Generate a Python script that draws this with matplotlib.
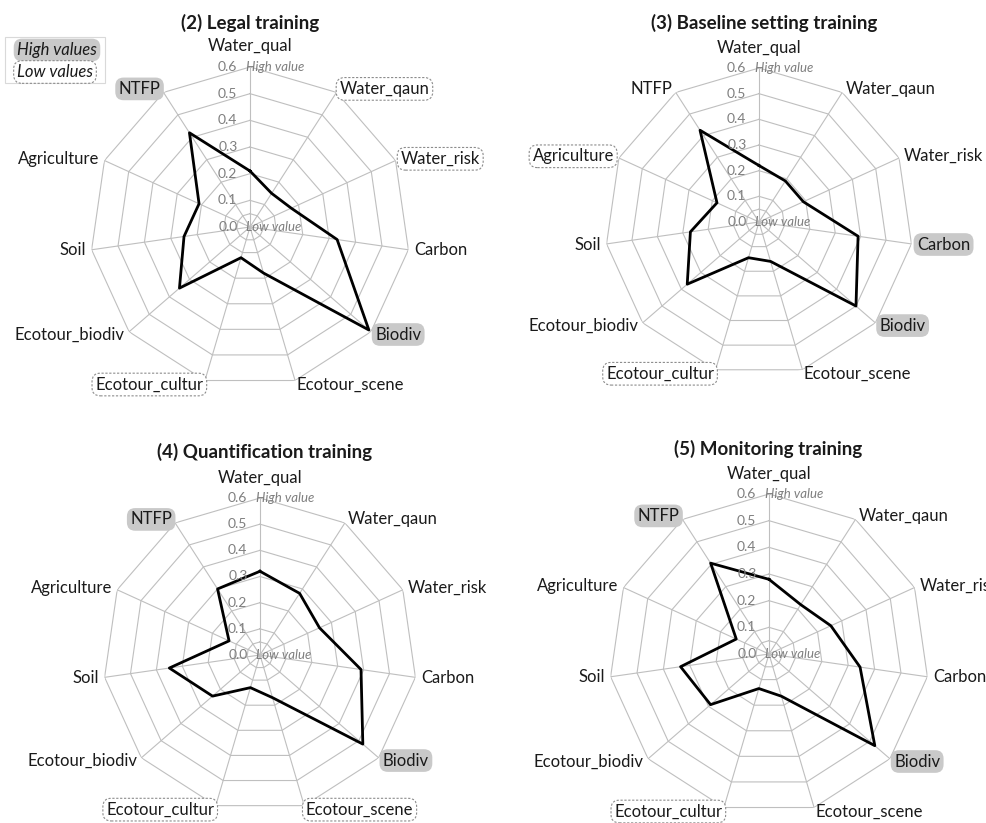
import numpy as np
import matplotlib
matplotlib.use('Agg')
import matplotlib.pyplot as plt
from matplotlib.patches import Rectangle

plt.rcParams['font.family'] = ['Lato', 'DejaVu Sans']

# ecosystem service categories, clockwise from the top
categories = ['Water_qual', 'Water_qaun', 'Water_risk', 'Carbon', 'Biodiv',
              'Ecotour_scene', 'Ecotour_cultur', 'Ecotour_biodiv', 'Soil',
              'Agriculture', 'NTFP']

legal = [0.21, 0.15, 0.17, 0.33, 0.59, 0.18, 0.12, 0.35, 0.25, 0.21, 0.42]
baseline = [0.22, 0.19, 0.19, 0.39, 0.50, 0.16, 0.145, 0.37, 0.27, 0.18, 0.425]
quantification = [0.32, 0.28, 0.25, 0.39, 0.52, 0.17, 0.13, 0.24, 0.35, 0.13, 0.30]
monitoring = [0.28, 0.22, 0.255, 0.345, 0.525, 0.165, 0.135, 0.29, 0.335, 0.135, 0.405]

titles = ['(2) Legal training', '(3) Baseline setting training',
          '(4) Quantification training', '(5) Monitoring training']
series = [legal, baseline, quantification, monitoring]
high_labels = [['NTFP', 'Biodiv'], ['Carbon', 'Biodiv'],
               ['NTFP', 'Biodiv'], ['NTFP', 'Biodiv']]
low_labels = [['Water_qaun', 'Water_risk', 'Ecotour_cultur'],
              ['Agriculture', 'Ecotour_cultur'],
              ['Ecotour_cultur', 'Ecotour_scene'],
              ['Ecotour_cultur']]

rings = [0.05, 0.1, 0.2, 0.3, 0.4, 0.5, 0.6]
tick_vals = [0.0, 0.1, 0.2, 0.3, 0.4, 0.5, 0.6]
rmax = 0.6

W, H = 987, 823
fig = plt.figure(figsize=(W / 100, H / 100), dpi=100)

# panel centre and radius in pixels, plus title position
panels = [((250, 227), 160, (250, 23)),
          ((759, 222), 154, (764, 23)),
          ((260, 655), 157, (265, 452)),
          ((769, 654), 160, (768, 449))]

grid_col = '#bfbfbf'
tick_col = '#7f7f7f'
high_box = dict(boxstyle='round,pad=0.2,rounding_size=0.5', fc='#c9c9c9', ec='none')
low_box = dict(boxstyle='round,pad=0.2,rounding_size=0.5', fc='white', ec='#8c8c8c',
               ls=(0, (2, 1.5)), lw=0.8)

theta = np.linspace(0, 2 * np.pi, len(categories), endpoint=False)
theta_closed = np.append(theta, theta[0])

for (ctr, R, tpos), title, vals, hi, lo in zip(panels, titles, series, high_labels, low_labels):
    cx, cy = ctr
    ax = fig.add_axes([(cx - R) / W, (H - cy - R) / H, 2 * R / W, 2 * R / H],
                      projection='polar')
    ax.set_theta_zero_location('N')
    ax.set_theta_direction(-1)
    ax.set_ylim(0, rmax)
    ax.set_xticks([])
    ax.set_yticks([])
    ax.grid(False)
    ax.spines['polar'].set_visible(False)
    ax.patch.set_alpha(0)

    # polygon grid and spokes
    for r in rings:
        ax.plot(theta_closed, [r] * len(theta_closed), color=grid_col, lw=0.8, zorder=1)
    for t in theta:
        ax.plot([t, t], [0, rmax], color=grid_col, lw=0.8, zorder=1)

    # data polygon
    v = np.append(vals, vals[0])
    ax.plot(theta_closed, v, color='black', lw=2.0, zorder=3)

    # radial tick labels
    for tv in tick_vals:
        ax.annotate(f'{tv:.1f}', xy=(0, tv), xytext=(-9, 0), textcoords='offset points',
                    ha='right', va='center', fontsize=10, color=tick_col, zorder=4)
    ax.annotate('High value', xy=(0, rmax), xytext=(-3, 0), textcoords='offset points',
                ha='left', va='center', fontsize=9.5, style='italic', color=tick_col)
    ax.annotate('Low value', xy=(0, 0), xytext=(-3, 0), textcoords='offset points',
                ha='left', va='center', fontsize=9.5, style='italic', color=tick_col)

    # category labels around the outer ring
    for t, name in zip(theta, categories):
        s, c = np.sin(t), np.cos(t)
        if abs(s) < 0.1:
            ha, va, off = 'center', 'bottom', (0, 9)
        else:
            ha = 'left' if s > 0 else 'right'
            va = 'center'
            off = (4 * s, 3 * c)
        box = high_box if name in hi else (low_box if name in lo else None)
        ax.annotate(name, xy=(t, rmax), xytext=off, textcoords='offset points',
                    ha=ha, va=va, fontsize=12, color='#1a1a1a', bbox=box)

    fig.text(tpos[0] / W, 1 - tpos[1] / H, title, ha='center', va='center',
             fontsize=13.5, fontweight='bold', color='#1a1a1a')

# legend for the label highlighting
fig.patches.append(Rectangle((5 / W, 1 - 83 / H), 100 / W, 46 / H, transform=fig.transFigure,
                             fill=False, ec='#d9d9d9', lw=0.8))
fig.text(57 / W, 1 - 50 / H, 'High values', ha='center', va='center', fontsize=12,
         style='italic', color='#1a1a1a', bbox=high_box)
fig.text(55 / W, 1 - 72 / H, 'Low values', ha='center', va='center', fontsize=12,
         style='italic', color='#1a1a1a', bbox=low_box)

fig.savefig('out.png', dpi=100, facecolor='white')
